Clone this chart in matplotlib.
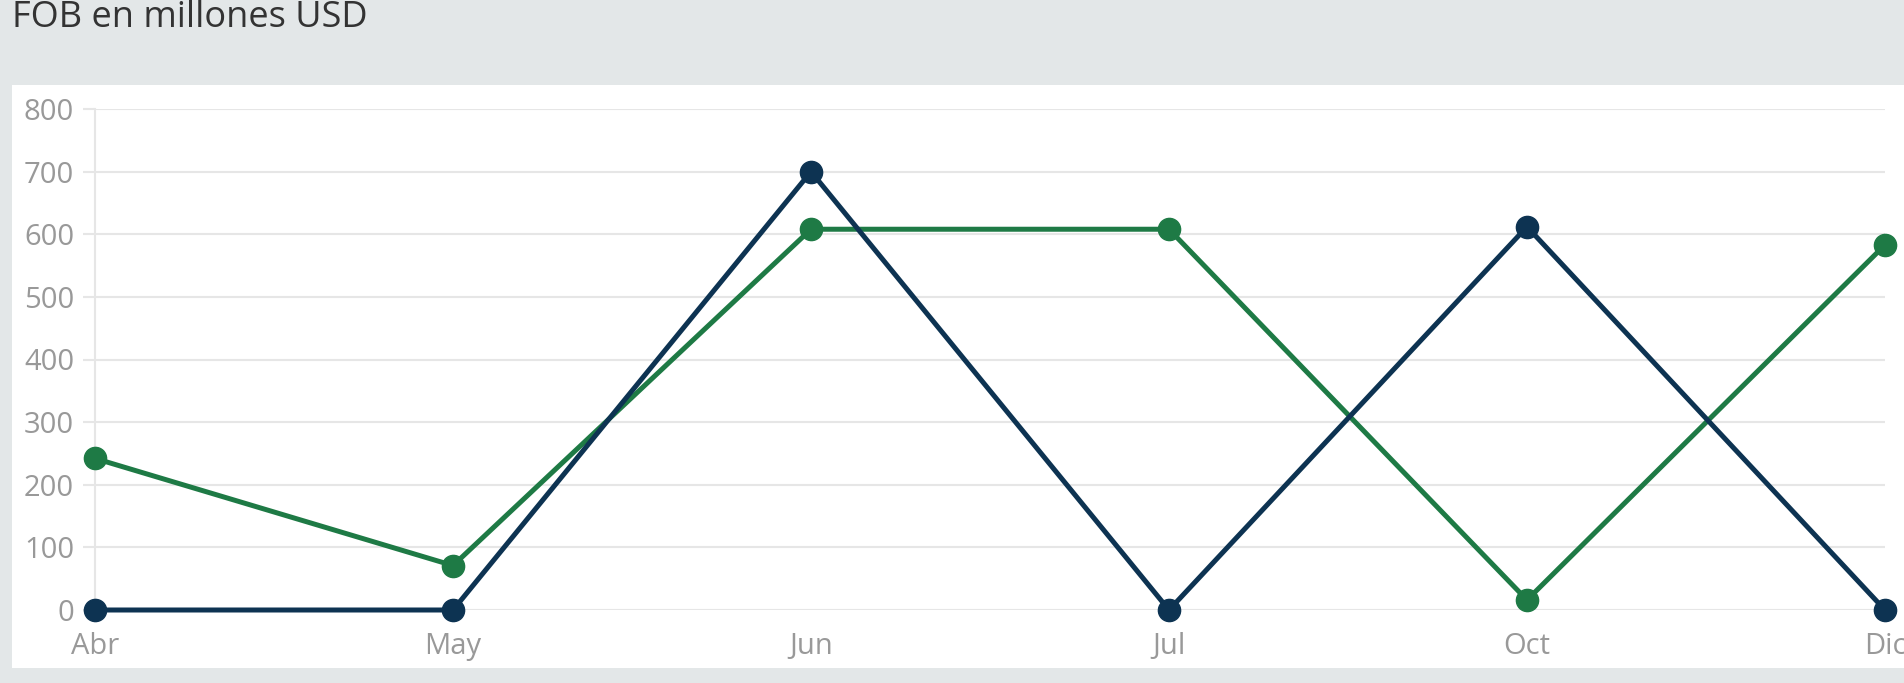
import matplotlib
matplotlib.use("Agg")
import matplotlib.pyplot as plt
from matplotlib.patches import Rectangle

plt.rcParams["font.family"] = ["Open Sans", "DejaVu Sans"]

months = ["Abr", "May", "Jun", "Jul", "Oct", "Dic"]
green_vals = [242, 71, 608, 608, 16, 583]
navy_vals = [0, 0, 700, 0, 612, 0]
yticks = [0, 100, 200, 300, 400, 500, 600, 700, 800]

W, H = 1904, 683
fig = plt.figure(figsize=(W / 100, H / 100), dpi=100, facecolor="#e3e7e8")

# white card behind the plot
fig.patches.append(Rectangle((12 / W, 1 - 668 / H), 1, (668 - 85) / H,
                             transform=fig.transFigure, facecolor="white",
                             edgecolor="none", zorder=-1))

fig.text(12 / W, 1 - 18 / H, "FOB en millones USD", fontsize=26,
         color="#333333", va="center", ha="left")

ax = fig.add_axes([95 / W, 1 - 610 / H, (1885 - 95) / W, (610 - 109) / H])
ax.set_zorder(1)
ax.set_facecolor("none")
x = range(len(months))
ax.plot(x, green_vals, color="#1e7a45", lw=3.6, marker="o", ms=16,
        clip_on=False, zorder=3)
ax.plot(x, navy_vals, color="#0d3352", lw=3.6, marker="o", ms=16,
        clip_on=False, zorder=4)

ax.set_xlim(0, len(months) - 1)
ax.set_ylim(0, 800)
ax.set_xticks(list(x))
ax.set_xticklabels(months)
ax.set_yticks(yticks)
ax.grid(axis="y", color="#e6e6e6", lw=1.5)
ax.set_axisbelow(True)
for s in ["top", "right", "bottom"]:
    ax.spines[s].set_visible(False)
ax.spines["left"].set_color("#e6e6e6")
ax.spines["left"].set_linewidth(1.5)
ax.tick_params(axis="y", length=9, width=1.5, color="#e6e6e6", pad=6,
               labelsize=21, labelcolor="#999999")
ax.tick_params(axis="x", length=0, pad=16, labelsize=21, labelcolor="#999999")

fig.savefig("out.png", dpi=100, facecolor=fig.get_facecolor())
